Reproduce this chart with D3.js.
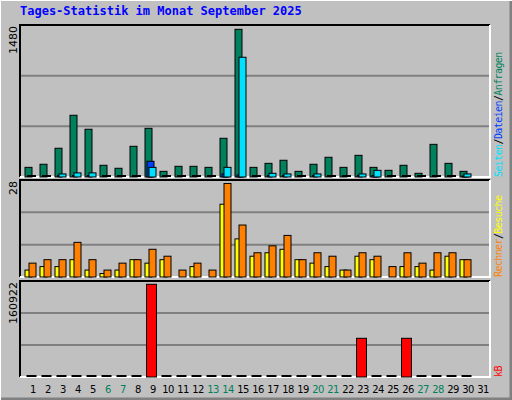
<!DOCTYPE html>
<html><head><meta charset="utf-8">
<script src="https://cdn.jsdelivr.net/npm/d3@7"></script>
<style>body{margin:0;background:#fff}</style>
</head><body><svg id="chart" width="512" height="400"></svg>
<script>
const days = d3.range(1, 32);
const weekend = [6, 7, 13, 14, 20, 21, 27, 28];
const anfragen = [94,124,280,601,465,114,85,299,474,55,104,104,94,377,1438,94,133,163,55,124,192,94,211,94,65,114,36,318,133,55,0];
const dateien = [0,0,0,0,0,0,0,0,153,0,0,0,0,30,20,0,0,0,0,0,0,0,0,15,0,0,0,0,0,10,0];
const seiten = [0,0,30,40,40,0,0,0,94,0,0,0,0,94,1166,0,36,30,0,30,0,0,30,65,0,0,0,0,0,30,0];
const besuche = [2,3,3,5,2,1,2,5,4,5,0,3,0,21,11,6,7,8,5,4,3,2,6,5,0,3,3,2,6,5,0];
const rechner = [4,5,5,10,5,2,4,5,8,6,2,4,2,27,15,7,9,12,5,7,6,2,7,6,3,7,4,7,7,5,0];
const kb = [0,0,0,0,0,0,0,0,155400,0,0,0,0,0,0,0,0,0,0,0,0,0,64900,0,0,64900,0,0,0,0,0];
const maxLabels = ["1480", "28", "160922"];

const svg = d3.select("#chart");
svg.append("rect").attr("width", 512).attr("height", 400).attr("fill", "#c0c0c0");
svg.append("path").attr("d", "M0,400V0H512").attr("stroke", "#fff").attr("stroke-width", 2).attr("fill", "none");
svg.append("path").attr("d", "M1,399H511V1").attr("stroke", "#808080").attr("stroke-width", 3).attr("fill", "none");

svg.append("text").attr("x", 20).attr("y", 15)
  .attr("font-family", "DejaVu Sans Mono").attr("font-weight", "bold").attr("font-size", 12)
  .attr("fill", "#0000ff").text("Tages-Statistik im Monat September 2025");

const x = d3.scaleLinear().domain([1, 31]).range([33, 483]);
const L = 20, R = 490;

function panel(top, bottom, max, label, rightLabels) {
  svg.append("rect").attr("x", L).attr("y", top).attr("width", R - L).attr("height", bottom - top).attr("fill", "#c0c0c0");
  const y = d3.scaleLinear().domain([0, max]).range([bottom, top]);
  [1 / 3, 2 / 3].forEach(f => svg.append("line").attr("x1", L + 1).attr("x2", R - 1)
    .attr("y1", y(max * f)).attr("y2", y(max * f)).attr("stroke", "#808080").attr("stroke-width", 2));
  svg.append("path").attr("d", `M${L},${bottom}V${top}H${R}`).attr("stroke", "#000").attr("stroke-width", 2).attr("fill", "none");
  svg.append("path").attr("d", `M${R},${top}V${bottom}H${L}`).attr("stroke", "#fff").attr("stroke-width", 2).attr("fill", "none");
  svg.append("text").attr("transform", `translate(17,${top + 1}) rotate(-90)`).attr("text-anchor", "end")
    .attr("font-family", "DejaVu Sans").attr("font-size", 11).text(label);
  const t = svg.append("text").attr("transform", `translate(502,${bottom}) rotate(-90)`)
    .attr("font-family", "DejaVu Sans Mono").attr("font-size", 10).attr("letter-spacing", -0.6);
  rightLabels.forEach(([s, c], i) => {
    if (i > 0) t.append("tspan").attr("fill", "#000").text("/");
    t.append("tspan").attr("fill", c).text(s);
  });
  return y;
}

function bars(y, data, dx, w, color) {
  svg.append("g").selectAll("rect").data(data).join("rect")
    .attr("x", (d, i) => x(i + 1) + dx).attr("width", w)
    .attr("y", d => d ? y(d) : y(0) - 2).attr("height", d => d ? y(0) - y(d) : 2)
    .attr("fill", d => d ? color : "#000").attr("stroke", "#000").attr("stroke-width", d => d ? 1 : 0);
}

const y1 = panel(25, 177, 1480, maxLabels[0], [["Seiten", "#00e0ff"], ["Dateien", "#0040ff"], ["Anfragen", "#00805c"]]);
bars(y1, anfragen.slice(0, 30), -8, 7, "#00805c");
bars(y1, dateien.slice(0, 30), -6, 7, "#0040ff");
bars(y1, seiten.slice(0, 30), -4, 7, "#00e0ff");

const y2 = panel(180, 277, 28, maxLabels[1], [["Rechner", "#ff8000"], ["Besuche", "#ffff00"]]);
bars(y2, besuche.slice(0, 30).map(d => d || 1e-9), -8, 7, "#ffff00");
bars(y2, rechner.slice(0, 30), -4, 7, "#ff8000");

const y3 = panel(281, 377, 160922, maxLabels[2], [["kB", "#ff0000"]]);
bars(y3, kb.slice(0, 30), -6.5, 10, "#ff0000");

svg.append("g").selectAll("text").data(days).join("text")
  .attr("x", d => x(d)).attr("y", 393).attr("text-anchor", "middle")
  .attr("font-family", "DejaVu Sans").attr("font-size", 10).attr("letter-spacing", -0.5)
  .attr("fill", d => weekend.includes(d) ? "#00805c" : "#000").text(d => d);
</script></body></html>
